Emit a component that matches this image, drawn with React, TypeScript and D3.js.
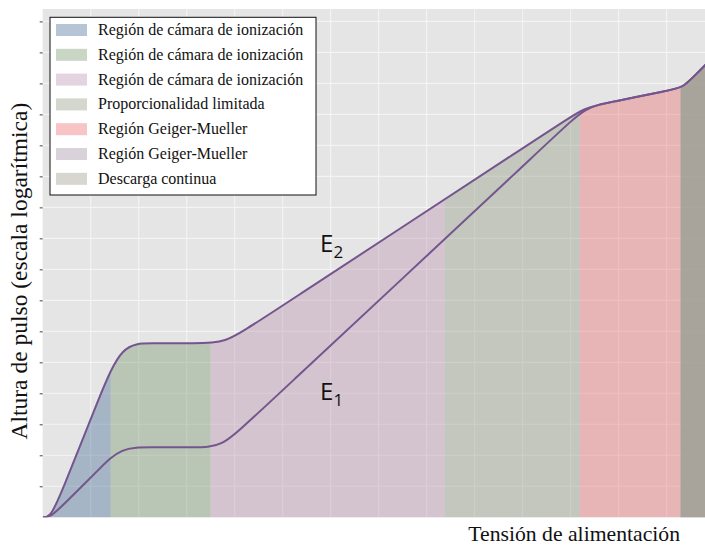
import React, { useEffect, useRef } from 'react';
import * as d3 from 'd3';

// control points (x = tension, y = pulse height, arbitrary units)
// drawn as a B-spline so the corners come out rounded like the original
const tensionE2 = [0, 0.152, 0.36, 1.194, 1.652, 2.235, 3.173, 3.798, 4.423, 10.777, 11.298, 11.819, 13.069, 13.34, 13.569, 14.11];
const pulseE2 = [0, 0, 0.655, 3.945, 5.613, 5.613, 5.613, 5.613, 6.248, 12.694, 13.229, 13.387, 13.784, 13.871, 14.226, 15.065];
const tensionE1 = [0, 0.152, 0.402, 1.194, 1.631, 2.235, 3.173, 3.727, 4.315, 10.777, 11.298, 11.819, 13.069, 13.34, 13.569, 14.11];
const pulseE1 = [0, 0, 0.355, 1.581, 2.258, 2.258, 2.258, 2.258, 3.113, 12.439, 13.229, 13.387, 13.784, 13.871, 14.226, 15.065];

const regionNames = [
  'Región de cámara de ionización',
  'Región de cámara de ionización',
  'Región de cámara de ionización',
  'Proporcionalidad limitada',
  'Región Geiger-Mueller',
  'Región Geiger-Mueller',
  'Descarga continua',
];
const regionStart = [0, 1.417, 3.5, 8.38, 11.19, 13.29, 13.29];
const regionEnd = [1.417, 3.5, 8.38, 11.19, 13.29, 13.8, 13.8];
const regionColors = ['#476f97', '#77976f', '#bc94ae', '#929a83', '#ec6d70', '#a28ea2', '#9a9b86'];
const regionOpacity = [0.4, 0.4, 0.4, 0.4, 0.4, 0.6, 0.6];

const xTicks = d3.range(1, 14);
const yTicks = d3.range(1, 17);

const W = 705;
const H = 545;

const App: React.FC = () => {
  const ref = useRef<SVGSVGElement>(null);

  useEffect(() => {
    const svg = d3.select(ref.current);
    svg.html('');

    const margin = { top: 9, right: 0, bottom: 27.7, left: 42.7 };
    const x = d3.scaleLinear().domain([0, 13.8]).range([margin.left, W - margin.right]);
    const y = d3.scaleLinear().domain([0, 16.4]).range([H - margin.bottom, margin.top]);

    const defs = svg.append('defs');
    defs.append('clipPath').attr('id', 'plot-clip')
      .append('rect')
      .attr('x', x(0)).attr('y', y(16.4))
      .attr('width', x(13.8) - x(0)).attr('height', y(0) - y(16.4));

    // panel
    svg.append('rect')
      .attr('x', x(0)).attr('y', y(16.4))
      .attr('width', x(13.8) - x(0)).attr('height', y(0) - y(16.4))
      .attr('fill', '#e5e5e5');

    const grid = svg.append('g').attr('stroke', '#f4f4f4').attr('stroke-width', 1.1);
    grid.selectAll('line.v').data(xTicks).enter().append('line')
      .attr('x1', d => x(d)).attr('x2', d => x(d))
      .attr('y1', y(0)).attr('y2', y(16.4));
    grid.selectAll('line.h').data(yTicks).enter().append('line')
      .attr('x1', x(0)).attr('x2', x(13.8))
      .attr('y1', d => y(d)).attr('y2', d => y(d));

    const e2 = tensionE2.map((t, i) => [t, pulseE2[i]] as [number, number]);
    const e1 = tensionE1.map((t, i) => [t, pulseE1[i]] as [number, number]);

    const area = d3.area<[number, number]>()
      .x(d => x(d[0]))
      .y0(y(0))
      .y1(d => y(d[1]))
      .curve(d3.curveBasis);

    const line = d3.line<[number, number]>()
      .x(d => x(d[0]))
      .y(d => y(d[1]))
      .curve(d3.curveBasis);

    regionNames.forEach((_, i) => {
      defs.append('clipPath').attr('id', `reg-${i}`)
        .append('rect')
        .attr('x', x(regionStart[i])).attr('y', 0)
        .attr('width', x(regionEnd[i]) - x(regionStart[i])).attr('height', H);
      svg.append('path')
        .attr('d', area(e2))
        .attr('fill', regionColors[i])
        .attr('fill-opacity', regionOpacity[i])
        .attr('clip-path', `url(#reg-${i})`);
    });

    const lines = svg.append('g').attr('clip-path', 'url(#plot-clip)');
    [e2, e1].forEach(pts => {
      lines.append('path')
        .attr('d', line(pts))
        .attr('fill', 'none')
        .attr('stroke', '#74558d')
        .attr('stroke-width', 2);
    });

    // y axis ticks only
    svg.append('g')
      .attr('transform', `translate(${x(0)},0)`)
      .call(d3.axisLeft(y).tickValues(yTicks).tickSize(3).tickFormat(() => ''))
      .call(g => g.select('.domain').remove())
      .call(g => g.selectAll('line').attr('stroke', '#444'));

    // curve labels
    const labels = [
      { name: 'E', sub: '2', t: 5.78, p: 8.56 },
      { name: 'E', sub: '1', t: 5.78, p: 3.79 },
    ];
    labels.forEach(l => {
      const txt = svg.append('text')
        .attr('x', x(l.t)).attr('y', y(l.p))
        .attr('font-family', '"Open Sans", sans-serif')
        .attr('font-size', 24)
        .attr('fill', '#111');
      txt.append('tspan').text(l.name);
      txt.append('tspan').attr('font-size', 17).attr('dy', 6).text(l.sub);
    });

    // axis titles
    svg.append('text')
      .attr('transform', `translate(27,${(y(0) + y(16.4)) / 2 + 8}) rotate(-90)`)
      .attr('text-anchor', 'middle')
      .attr('font-family', '"Liberation Serif", serif')
      .attr('font-size', 23.5)
      .attr('fill', '#111')
      .text('Altura de pulso (escala logarítmica)');

    svg.append('text')
      .attr('x', 680).attr('y', 541)
      .attr('text-anchor', 'end')
      .attr('font-family', '"Liberation Serif", serif')
      .attr('font-size', 21.7)
      .attr('fill', '#111')
      .text('Tensión de alimentación');

    // legend
    const lg = svg.append('g').attr('transform', 'translate(50,17.3)');
    lg.append('rect')
      .attr('width', 266).attr('height', 177.7)
      .attr('fill', 'white').attr('stroke', '#111').attr('stroke-width', 1);
    regionNames.forEach((name, i) => {
      const cy = 12.7 + i * 24.8;
      lg.append('rect')
        .attr('x', 6).attr('y', cy - 6).attr('width', 31).attr('height', 12)
        .attr('fill', regionColors[i]).attr('fill-opacity', 0.4);
      lg.append('text')
        .attr('x', 48).attr('y', cy + 5)
        .attr('font-family', '"Liberation Serif", serif')
        .attr('font-size', 16)
        .attr('fill', '#111')
        .text(name);
    });
  }, []);

  return (
    <>
      <style>{'body{margin:0}'}</style>
      <svg ref={ref} width={W} height={H} style={{ display: 'block' }}></svg>
    </>
  );
};

export default App;
